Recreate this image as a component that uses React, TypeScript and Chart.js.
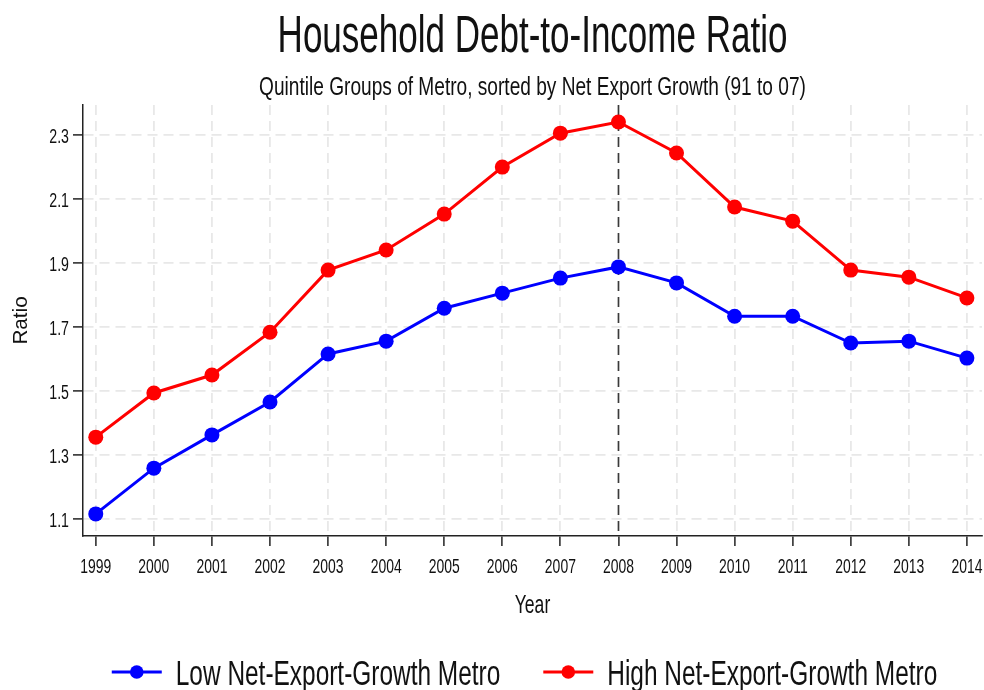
import React, { useEffect, useRef } from "react";
import { Chart, registerables } from "chart.js";

Chart.register(...registerables);

const years = [1999, 2000, 2001, 2002, 2003, 2004, 2005, 2006, 2007, 2008, 2009, 2010, 2011, 2012, 2013, 2014];
const lowGrowth = [1.116, 1.259, 1.363, 1.466, 1.616, 1.656, 1.759, 1.806, 1.853, 1.888, 1.838, 1.734, 1.734, 1.65, 1.656, 1.603];
const highGrowth = [1.356, 1.494, 1.55, 1.684, 1.878, 1.941, 2.053, 2.2, 2.306, 2.341, 2.244, 2.075, 2.031, 1.878, 1.856, 1.791];
const yTickValues = [1.1, 1.3, 1.5, 1.7, 1.9, 2.1, 2.3];
const markerYear = 2008;

const titleText = "Household Debt-to-Income Ratio";
const subtitleText = "Quintile Groups of Metro, sorted by Net Export Growth (91 to 07)";
const xTitle = "Year";
const yTitle = "Ratio";
const seriesLabels = ["Low Net-Export-Growth Metro", "High Net-Export-Growth Metro"];
const seriesColors = ["#0000ff", "#ff0000"];

const FONT = '"Liberation Sans", Arial, sans-serif';
const SX = 0.82;
const SY = 1.2;

function drawText(
  ctx: CanvasRenderingContext2D,
  text: string,
  x: number,
  y: number,
  size: number,
  align: CanvasTextAlign,
  rotate = 0,
  sx = SX,
  sy = SY
) {
  ctx.save();
  ctx.translate(x, y);
  if (rotate) ctx.rotate(rotate);
  ctx.scale(sx, sy);
  ctx.font = `${size}px ${FONT}`;
  ctx.textAlign = align;
  ctx.textBaseline = "alphabetic";
  ctx.fillStyle = "#111";
  ctx.fillText(text, 0, 0);
  ctx.restore();
}

const decorPlugin = {
  id: "decor",
  beforeDatasetsDraw(chart: any) {
    const { ctx, chartArea, scales } = chart;
    const px = scales.x.getPixelForValue(markerYear);
    ctx.save();
    ctx.strokeStyle = "#3a3a3a";
    ctx.lineWidth = 1.6;
    ctx.setLineDash([10, 6]);
    ctx.beginPath();
    ctx.moveTo(px, chartArea.top);
    ctx.lineTo(px, chartArea.bottom);
    ctx.stroke();
    ctx.restore();
  },
  afterDraw(chart: any) {
    const { ctx, chartArea, scales } = chart;
    const cx = (chartArea.left + chartArea.right) / 2;
    const cy = (chartArea.top + chartArea.bottom) / 2;

    drawText(ctx, titleText, cx, 52, 42.7, "center");
    drawText(ctx, subtitleText, cx, 95, 23.3, "center", 0, SX, 1.14);

    // tick labels
    years.forEach((yr) => {
      drawText(ctx, String(yr), scales.x.getPixelForValue(yr), 573, 17, "center");
    });
    yTickValues.forEach((v) => {
      drawText(ctx, v.toFixed(1), chartArea.left - 14, scales.y.getPixelForValue(v) + 7.5, 17.3, "right");
    });

    // axis titles
    drawText(ctx, xTitle, cx, 613, 21.4, "center");
    drawText(ctx, yTitle, 27, cy, 21, "center", -Math.PI / 2, SX * SY, 1);

    // legend
    const size = 29.8;
    ctx.save();
    ctx.font = `${size}px ${FONT}`;
    const w = seriesLabels.map((t) => ctx.measureText(t).width * SX);
    ctx.restore();
    const iconW = 50;
    const iconGap = 14;
    const itemGap = 43;
    const total = iconW * 2 + iconGap * 2 + w[0] + w[1] + itemGap;
    let x = 524.5 - total / 2;
    const ly = 672;
    for (let i = 0; i < 2; i++) {
      ctx.save();
      ctx.strokeStyle = seriesColors[i];
      ctx.fillStyle = seriesColors[i];
      ctx.lineWidth = 3;
      ctx.beginPath();
      ctx.moveTo(x, ly);
      ctx.lineTo(x + iconW, ly);
      ctx.stroke();
      ctx.beginPath();
      ctx.arc(x + iconW / 2, ly, 6.8, 0, Math.PI * 2);
      ctx.fill();
      ctx.restore();
      drawText(ctx, seriesLabels[i], x + iconW + iconGap, 685, size, "left");
      x += iconW + iconGap + w[i] + itemGap;
    }
  },
};

export default function App() {
  const ref = useRef<HTMLCanvasElement | null>(null);

  useEffect(() => {
    if (!ref.current) return;
    const gridBase = {
      color: "#e8e8e8",
      lineWidth: 1.8,
      tickColor: "#222",
      tickWidth: 1.5,
      tickLength: 10,
    };
    const chart = new Chart(ref.current, {
      type: "line",
      data: {
        datasets: [
          {
            label: seriesLabels[0],
            data: years.map((yr, i) => ({ x: yr, y: lowGrowth[i] })),
            borderColor: seriesColors[0],
            backgroundColor: seriesColors[0],
            borderWidth: 3,
            pointRadius: 7.5,
            pointBorderWidth: 0,
            pointBackgroundColor: seriesColors[0],
            tension: 0,
          },
          {
            label: seriesLabels[1],
            data: years.map((yr, i) => ({ x: yr, y: highGrowth[i] })),
            borderColor: seriesColors[1],
            backgroundColor: seriesColors[1],
            borderWidth: 3,
            pointRadius: 7.5,
            pointBorderWidth: 0,
            pointBackgroundColor: seriesColors[1],
            tension: 0,
          },
        ],
      },
      options: {
        animation: false,
        responsive: true,
        maintainAspectRatio: false,
        layout: { autoPadding: false, padding: { top: 105, left: 0, right: 2, bottom: 0 } },
        plugins: {
          legend: { display: false },
          title: { display: false },
          tooltip: { enabled: false },
        },
        scales: {
          x: {
            type: "linear",
            min: 1998.78,
            max: 2014.26,
            afterBuildTicks: (s: any) => {
              s.ticks = years.map((v) => ({ value: v }));
            },
            afterFit: (s: any) => {
              s.height = 154;
            },
            ticks: { display: false },
            grid: gridBase,
            border: { display: true, color: "#222", width: 1.5, dash: [10, 6] },
            title: { display: false },
          },
          y: {
            type: "linear",
            min: 1.047,
            max: 2.394,
            afterBuildTicks: (s: any) => {
              s.ticks = yTickValues.map((v) => ({ value: v }));
            },
            afterFit: (s: any) => {
              s.width = 83;
            },
            ticks: { display: false },
            grid: gridBase,
            border: { display: true, color: "#222", width: 1.5, dash: [10, 6] },
            title: { display: false },
          },
        },
      },
      plugins: [decorPlugin],
    } as any);
    return () => chart.destroy();
  }, []);

  return (
    <div style={{ position: "fixed", left: 0, top: 0, width: 984, height: 690, background: "#fff" }}>
      <canvas ref={ref} />
    </div>
  );
}
